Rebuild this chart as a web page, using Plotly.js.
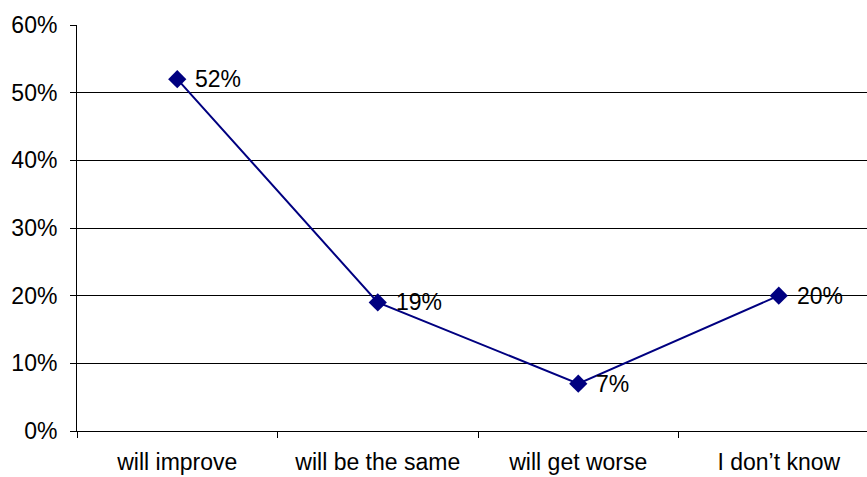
<!DOCTYPE html>
<html>
<head>
<meta charset="utf-8">
<script src="https://cdn.plot.ly/plotly-3.0.1.min.js"></script>
<style>
  html, body { margin: 0; padding: 0; background: #ffffff; }
  #chart { width: 867px; height: 477px; }
</style>
</head>
<body>
<div id="chart"></div>
<script>
// Expectations survey: share of answers per option (percent)
const categories = ["will improve", "will be the same", "will get worse", "I don\u2019t know"];
const shares = [52, 19, 7, 20];
const yTicks = [0, 10, 20, 30, 40, 50, 60];

const font = { family: "Liberation Sans, Arial, sans-serif", size: 23, color: "#000000" };

const trace = {
  type: "scatter",
  mode: "lines+markers",
  x: categories,
  y: shares,
  line: { color: "#000080", width: 2 },
  marker: { symbol: "diamond", size: 14, color: "#000080" },
  cliponaxis: false,
  hoverinfo: "skip"
};

// value labels sit just right of each marker
const valueLabels = categories.map((c, i) => ({
  x: c,
  y: shares[i],
  xref: "x",
  yref: "y",
  text: shares[i] + "%",
  showarrow: false,
  xanchor: "left",
  yanchor: "middle",
  xshift: 16,
  font: font
}));

const layout = {
  width: 867,
  height: 477,
  margin: { l: 77, r: 0, t: 25, b: 46 },
  paper_bgcolor: "#ffffff",
  plot_bgcolor: "#ffffff",
  showlegend: false,
  font: font,
  annotations: valueLabels,
  xaxis: {
    type: "category",
    range: [-0.5, 3.44],
    tickson: "boundaries",
    ticks: "outside",
    ticklen: 6,
    tickcolor: "#000000",
    tickwidth: 1,
    showgrid: false,
    showline: true,
    linecolor: "#000000",
    linewidth: 1,
    zeroline: false,
    tickfont: font,
    ticklabelstandoff: 10
  },
  yaxis: {
    range: [0, 60],
    tickvals: yTicks,
    ticktext: yTicks.map(v => v + "%"),
    ticks: "outside",
    ticklen: 6,
    tickcolor: "#000000",
    showgrid: true,
    gridcolor: "#000000",
    gridwidth: 1,
    showline: true,
    linecolor: "#000000",
    linewidth: 1,
    zeroline: false,
    tickfont: font,
    ticklabelstandoff: 8
  }
};

Plotly.newPlot("chart", [trace], layout, { staticPlot: true, displayModeBar: false });
</script>
</body>
</html>
